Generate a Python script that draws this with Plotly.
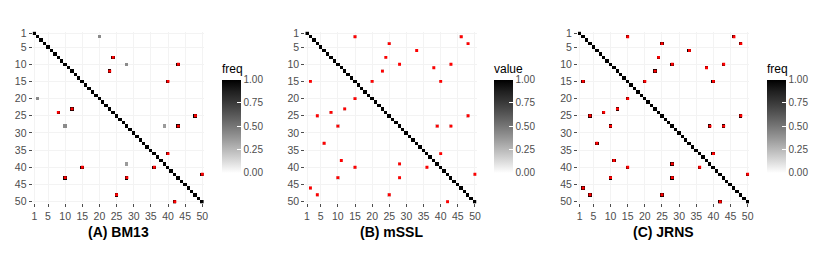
import plotly.graph_objects as go

N = 50
ticks = [1, 5, 10, 15, 20, 25, 30, 35, 40, 45, 50]
panel_titles = ["(A) BM13", "(B) mSSL", "(C) JRNS"]
legend_titles = ["freq", "value", "freq"]

# BM13: edges marked red (estimated freq = 1) and gray false positives
bm13_red_rows = [8, 10, 12, 15, 25, 28, 36, 42]
bm13_red_cols = [24, 43, 23, 40, 48, 43, 40, 50]
bm13_gray_rows = [2, 10, 28]
bm13_gray_cols = [20, 28, 39]
bm13_gray_vals = [0.42, 0.42, 0.36]

# mSSL / JRNS: red-marked edges
edge_rows = [2, 2, 4, 4, 6, 8, 10, 10, 11, 12, 15, 15, 25, 28, 28, 36, 42]
edge_cols = [15, 46, 25, 48, 33, 24, 28, 43, 38, 23, 20, 40, 48, 39, 43, 40, 50]
mssl_edge_val = 0.12
jrns_edge_val = 1.0

# page body has an 8px margin: build the figure in window pixels shifted by it
OFF = 8
WIN_W, WIN_H = 817, 270
W, H = WIN_W - OFF, WIN_H - OFF
panel_px = [(32.6, 204.0), (305.3, 476.7), (578.0, 749.4)]
y_px = (31.6, 203.4)
cbar_x_px = [222, 494, 767]
cbar_top_px, cbar_bot_px = 60.5, 172.7

FONT = "Liberation Sans, Arial, sans-serif"

# Lab-like white->black gradient
colorscale = [[0.0, "#ffffff"], [0.125, "#dbdbdb"], [0.25, "#b9b9b9"], [0.375, "#979797"],
              [0.5, "#777777"], [0.625, "#585858"], [0.75, "#3b3b3b"], [0.875, "#202020"],
              [1.0, "#000000"]]


def fx(p):
    return (p - OFF) / W


def fy(p):
    return 1 - (p - OFF) / H


def empty():
    return [[None] * N for _ in range(N)]


def set_sym(z, r, c, v):
    z[r - 1][c - 1] = v
    z[c - 1][r - 1] = v


def with_diag(z):
    for i in range(N):
        z[i][i] = 1.0
    return z


z_bm = with_diag(empty())
for r, c in zip(bm13_red_rows, bm13_red_cols):
    set_sym(z_bm, r, c, 1.0)
for r, c, v in zip(bm13_gray_rows, bm13_gray_cols, bm13_gray_vals):
    set_sym(z_bm, r, c, v)

z_ms = with_diag(empty())
for r, c in zip(edge_rows, edge_cols):
    set_sym(z_ms, r, c, mssl_edge_val)

z_jr = with_diag(empty())
for r, c in zip(edge_rows, edge_cols):
    set_sym(z_jr, r, c, jrns_edge_val)

zs = [z_bm, z_ms, z_jr]
reds = [(bm13_red_rows, bm13_red_cols), (edge_rows, edge_cols), (edge_rows, edge_cols)]

fig = go.Figure()
idx = list(range(1, N + 1))
for k in range(3):
    xa = "x" if k == 0 else f"x{k+1}"
    ya = "y" if k == 0 else f"y{k+1}"
    fig.add_trace(go.Heatmap(
        z=zs[k], x=idx, y=idx, xaxis=xa, yaxis=ya,
        colorscale=colorscale, zmin=0, zmax=1, hoverongaps=False,
        colorbar=dict(
            x=fx(cbar_x_px[k]), xanchor="left", xpad=0, ypad=0,
            y=fy((cbar_top_px + cbar_bot_px) / 2), yanchor="middle",
            len=cbar_bot_px - cbar_top_px, lenmode="pixels",
            thickness=19, thicknessmode="pixels", outlinewidth=0,
            tickvals=[0, 0.25, 0.5, 0.75, 1.0],
            ticktext=["0.00", "0.25", "0.50", "0.75", "1.00"],
            ticks="inside", ticklen=4, tickcolor="white", tickwidth=1,
            tickfont=dict(family=FONT, size=10, color="#4d4d4d"),
            title=dict(text=legend_titles[k], side="top",
                       font=dict(family=FONT, size=12, color="#000000")),
        ),
    ))
    rr, cc = reds[k]
    px = list(cc) + list(rr)
    py = list(rr) + list(cc)
    fig.add_trace(go.Scatter(
        x=px, y=py, xaxis=xa, yaxis=ya, mode="markers",
        marker=dict(symbol="square", size=2.9, color="#ff0000", line=dict(width=0)),
        showlegend=False, hoverinfo="skip",
    ))

layout = dict(
    width=W, height=H, margin=dict(l=0, r=0, t=0, b=0, autoexpand=False),
    paper_bgcolor="white", plot_bgcolor="white", showlegend=False,
    font=dict(family=FONT),
)
annotations = []
for k in range(3):
    sfx = "" if k == 0 else str(k + 1)
    x0, x1 = panel_px[k]
    layout["xaxis" + sfx] = dict(
        domain=[fx(x0), fx(x1)], range=[0.5, 50.5], anchor="y" + sfx,
        tickvals=ticks, ticks="outside", ticklen=3, tickcolor="#4d4d4d", tickwidth=1,
        tickfont=dict(family=FONT, size=10.5, color="#4d4d4d"),
        showgrid=True, gridcolor="#f3f3f3", gridwidth=0.6, zeroline=False, showline=False,
        automargin=False,
    )
    layout["yaxis" + sfx] = dict(
        domain=[fy(y_px[1]), fy(y_px[0])], range=[50.5, 0.5], anchor="x" + sfx,
        tickvals=ticks, ticks="outside", ticklen=3, tickcolor="#4d4d4d", tickwidth=1,
        tickfont=dict(family=FONT, size=10.5, color="#4d4d4d"),
        showgrid=True, gridcolor="#f3f3f3", gridwidth=0.6, zeroline=False, showline=False,
        automargin=False,
    )
    annotations.append(dict(
        text="<b>" + panel_titles[k] + "</b>", x=fx((x0 + x1) / 2), y=fy(232),
        xref="paper", yref="paper", xanchor="center", yanchor="middle", showarrow=False,
        font=dict(family=FONT, size=14, color="#000000"),
    ))
layout["annotations"] = annotations
fig.update_layout(**layout)
fig.write_html("out.html")
